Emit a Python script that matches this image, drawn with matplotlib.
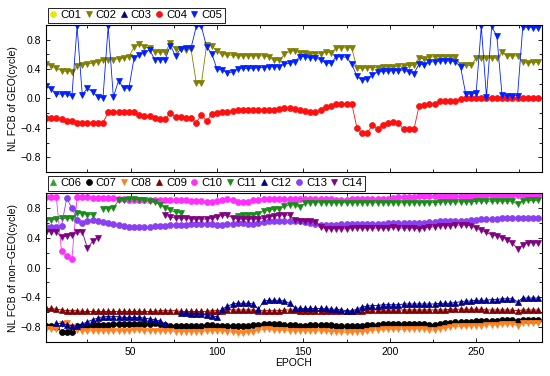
import numpy as np
import matplotlib
matplotlib.use("Agg")
import matplotlib.pyplot as plt
from matplotlib.ticker import MultipleLocator

plt.rcParams['font.family'] = ['Liberation Sans', 'DejaVu Sans']
plt.rcParams['font.size'] = 7.5

# epochs sampled every 3rd epoch (1 .. 286)
epoch = np.arange(1, 289, 3)
nan = np.nan

# ---- GEO satellites (top panel) ----
c01 = []
c03 = []
c02 = [0.47, 0.44, 0.41, 0.38, 0.37, 0.36, 0.44, 0.46, 0.47, 0.48, 0.50, 0.52,
       0.53, 0.53, 0.54, 0.55, 0.57, 0.70, 0.74, 0.70, 0.69, 0.63, 0.63, 0.63,
       0.75, 0.67, 0.67, 0.66, 0.67, 0.21, 0.21, 0.73, 0.72, 0.64, 0.60, 0.59,
       0.59, 0.58, 0.58, 0.58, 0.58, 0.58, 0.58, 0.57, 0.52, 0.52, 0.60, 0.64,
       0.65, 0.62, 0.62, 0.61, 0.61, 0.61, 0.63, 0.62, 0.69, 0.69, 0.69, 0.69,
       0.41, 0.41, 0.42, 0.42, 0.42, 0.43, 0.43, 0.43, 0.44, 0.44, 0.45, 0.45,
       0.55, 0.54, 0.56, 0.57, 0.57, 0.57, 0.57, 0.56, 0.46, 0.45, 0.45, 0.55,
       0.55, 0.55, 0.55, 0.55, 0.63, 0.58, 0.58, 0.58, 0.49, 0.48, 0.49, 0.49]
c04 = [-0.27, -0.27, -0.27, -0.28, -0.30, -0.31, -0.33, -0.33, -0.33, -0.33, -0.33, -0.33,
       -0.19, -0.18, -0.18, -0.18, -0.18, -0.19, -0.22, -0.24, -0.24, -0.26, -0.28, -0.28,
       -0.20, -0.25, -0.25, -0.26, -0.27, -0.33, -0.22, -0.31, -0.21, -0.20, -0.19, -0.18,
       -0.17, -0.16, -0.16, -0.16, -0.16, -0.15, -0.15, -0.15, -0.15, -0.14, -0.13, -0.13,
       -0.14, -0.15, -0.17, -0.18, -0.18, -0.16, -0.11, -0.10, -0.08, -0.07, -0.07, -0.07,
       -0.40, -0.47, -0.47, -0.36, -0.42, -0.36, -0.33, -0.32, -0.33, -0.42, -0.42, -0.42,
       -0.10, -0.09, -0.08, -0.07, -0.04, -0.04, -0.03, -0.03, -0.01, 0.00, 0.00, 0.01,
       0.01, 0.01, 0.01, 0.00, 0.00, 0.00, 0.00, 0.00, 0.00, 0.00, 0.00, 0.00]
c05 = [0.17, 0.13, 0.06, 0.06, 0.06, 0.03, 0.98, 0.05, 0.14, 0.09, 0.02, 0.01,
       0.98, 0.02, 0.24, 0.14, 0.14, 0.55, 0.59, 0.62, 0.66, 0.53, 0.53, 0.53,
       0.72, 0.58, 0.68, 0.69, 0.69, 0.98, 0.98, 0.70, 0.61, 0.40, 0.39, 0.35,
       0.36, 0.40, 0.41, 0.41, 0.41, 0.42, 0.42, 0.43, 0.43, 0.43, 0.47, 0.48,
       0.50, 0.57, 0.57, 0.55, 0.55, 0.53, 0.48, 0.48, 0.57, 0.57, 0.56, 0.47,
       0.30, 0.25, 0.26, 0.32, 0.36, 0.37, 0.37, 0.38, 0.38, 0.39, 0.36, 0.34,
       0.47, 0.45, 0.50, 0.50, 0.51, 0.51, 0.51, 0.50, 0.43, 0.06, 0.06, 0.07,
       0.98, 0.02, 0.98, 0.85, 0.05, 0.04, 0.04, 0.04, 0.97, 0.97, 0.96, 0.96]

# ---- non-GEO satellites (bottom panel) ----
c06 = []
c07 = [-0.79, -0.79, -0.80, -0.86, -0.87, -0.86, -0.79, -0.78, -0.78, -0.77, -0.77, -0.77,
       -0.77, -0.76, -0.76, -0.76, -0.76, -0.76, -0.76, -0.76, -0.76, -0.75, -0.76, -0.77,
       -0.78, -0.78, -0.78, -0.78, -0.78, -0.78, -0.78, -0.77, -0.77, -0.78, -0.78, -0.78,
       -0.78, -0.79, -0.79, -0.78, -0.77, -0.77, -0.76, -0.76, -0.76, -0.76, -0.77, -0.77,
       -0.77, -0.78, -0.78, -0.77, -0.77, -0.77, -0.77, -0.77, -0.78, -0.78, -0.79, -0.79,
       -0.78, -0.78, -0.77, -0.77, -0.77, -0.76, -0.76, -0.76, -0.76, -0.76, -0.76, -0.76,
       -0.76, -0.76, -0.77, -0.77, -0.76, -0.75, -0.74, -0.73, -0.73, -0.73, -0.73, -0.72,
       -0.72, -0.72, -0.72, -0.72, -0.71, -0.71, -0.71, -0.72, -0.70, -0.70, -0.70, -0.70]
c08 = [-0.83, -0.83, -0.82, -0.76, -0.74, -0.80, -0.84, -0.85, -0.85, -0.85, -0.85, -0.85,
       -0.85, -0.85, -0.85, -0.85, -0.85, -0.84, -0.84, -0.85, -0.85, -0.85, -0.85, -0.85,
       -0.85, -0.86, -0.86, -0.86, -0.86, -0.86, -0.86, -0.85, -0.85, -0.85, -0.85, -0.86,
       -0.87, -0.88, -0.88, -0.87, -0.86, -0.84, -0.83, -0.83, -0.84, -0.84, -0.84, -0.85,
       -0.85, -0.85, -0.85, -0.85, -0.85, -0.85, -0.85, -0.86, -0.86, -0.87, -0.87, -0.87,
       -0.86, -0.86, -0.85, -0.84, -0.84, -0.83, -0.83, -0.83, -0.83, -0.83, -0.83, -0.82,
       -0.82, -0.83, -0.84, -0.84, -0.82, -0.81, -0.80, -0.79, -0.79, -0.79, -0.78, -0.78,
       -0.78, -0.77, -0.77, -0.77, -0.76, -0.76, -0.76, -0.78, -0.75, -0.75, -0.75, -0.75]
c09 = [-0.55, -0.55, -0.56, -0.57, -0.58, -0.58, -0.58, -0.59, -0.59, -0.59, -0.59, -0.59,
       -0.59, -0.59, -0.59, -0.59, -0.59, -0.59, -0.59, -0.59, -0.59, -0.59, -0.58, -0.58,
       -0.58, -0.58, -0.59, -0.59, -0.59, -0.59, -0.59, -0.59, -0.58, -0.58, -0.58, -0.57,
       -0.57, -0.57, -0.57, -0.57, -0.57, -0.58, -0.58, -0.58, -0.58, -0.58, -0.57, -0.57,
       -0.57, -0.58, -0.58, -0.58, -0.58, -0.58, -0.58, -0.58, -0.58, -0.59, -0.59, -0.59,
       -0.58, -0.58, -0.57, -0.57, -0.57, -0.57, -0.57, -0.57, -0.57, -0.57, -0.57, -0.57,
       -0.57, -0.57, -0.57, -0.57, -0.57, -0.57, -0.56, -0.56, -0.56, -0.56, -0.56, -0.56,
       -0.56, -0.57, -0.57, -0.57, -0.57, -0.57, -0.57, -0.58, -0.57, -0.57, -0.57, -0.57]
c10 = [0.94, 0.94, 0.94, 0.22, 0.16, 0.11, 0.94, 0.94, 0.94, 0.93, 0.93, 0.93,
       0.93, 0.93, 0.92, 0.92, 0.91, 0.91, 0.91, 0.91, 0.91, 0.90, 0.90, 0.90,
       0.90, 0.90, 0.90, 0.90, 0.89, 0.89, 0.89, 0.88, 0.88, 0.89, 0.91, 0.92,
       0.90, 0.88, 0.88, 0.88, 0.90, 0.91, 0.92, 0.92, 0.92, 0.92, 0.92, 0.92,
       0.92, 0.92, 0.92, 0.92, 0.92, 0.92, 0.92, 0.92, 0.91, 0.91, 0.91, 0.92,
       0.92, 0.92, 0.92, 0.92, 0.92, 0.92, 0.92, 0.93, 0.94, 0.94, 0.95, 0.95,
       0.96, 0.96, 0.96, 0.96, 0.96, 0.96, 0.96, 0.96, 0.96, 0.96, 0.96, 0.96,
       0.97, 0.97, 0.97, 0.97, 0.97, 0.97, 0.97, 0.97, 0.97, 0.97, 0.97, 0.97]
c11 = [0.64, 0.64, 0.65, 0.66, 0.66, 0.66, 0.73, 0.72, 0.71, 0.71, nan, 0.79,
       0.79, 0.80, 0.90, 0.91, 0.92, 0.92, 0.91, 0.90, 0.89, 0.88, 0.84, 0.80,
       0.77, 0.74, 0.73, nan, nan, nan, nan, nan, nan, nan, nan, nan,
       nan, 0.69, 0.70, 0.70, 0.71, 0.72, 0.76, 0.77, 0.78, 0.79, 0.82, 0.84,
       0.84, 0.81, 0.86, 0.87, 0.87, 0.87, 0.87, 0.87, 0.87, 0.87, 0.87, 0.87,
       0.87, 0.87, 0.87, 0.87, 0.87, 0.87, 0.87, 0.87, 0.87, 0.87, 0.87, 0.87,
       0.87, 0.87, 0.87, 0.87, 0.88, 0.88, 0.88, 0.88, 0.88, 0.88, 0.88, 0.89,
       0.89, 0.89, 0.89, 0.89, 0.89, 0.89, 0.89, 0.85, 0.89, 0.90, 0.90, 0.90]
c12 = [nan, nan, -0.75, -0.75, -0.77, -0.78, -0.79, -0.76, -0.73, -0.70, -0.68, -0.66,
       -0.66, -0.66, -0.66, -0.67, -0.67, -0.67, -0.67, -0.68, -0.69, -0.70, -0.72, -0.76,
       nan, nan, -0.61, -0.61, -0.62, -0.62, -0.63, -0.64, -0.65, -0.66, -0.56, -0.52,
       -0.49, -0.48, -0.48, -0.48, -0.49, -0.56, -0.45, -0.44, -0.44, -0.44, -0.45, -0.48,
       -0.54, -0.55, -0.55, -0.55, -0.55, -0.55, -0.55, -0.56, -0.56, -0.57, -0.58, -0.58,
       -0.56, -0.53, -0.52, -0.51, -0.51, -0.50, -0.50, -0.50, -0.50, -0.49, -0.49, -0.49,
       -0.49, -0.49, -0.49, -0.49, -0.48, -0.48, -0.48, -0.47, -0.46, -0.45, -0.45, -0.44,
       -0.44, -0.44, -0.43, -0.43, -0.42, -0.42, -0.42, -0.46, -0.41, -0.41, -0.41, -0.41]
c13 = [0.55, 0.55, 0.55, 0.56, 0.93, 0.80, 0.64, 0.60, 0.63, 0.64, 0.63, 0.61,
       0.60, 0.58, 0.57, 0.56, 0.55, 0.54, 0.54, 0.55, 0.55, 0.56, 0.56, 0.56,
       0.57, 0.57, 0.57, 0.57, 0.58, 0.58, 0.58, 0.58, 0.58, 0.57, 0.57, 0.58,
       0.59, 0.60, 0.60, 0.59, 0.59, 0.60, 0.61, 0.62, 0.62, 0.62, 0.62, 0.63,
       0.62, 0.62, 0.61, 0.60, 0.58, 0.57, 0.57, 0.57, 0.57, 0.58, 0.58, 0.58,
       0.58, 0.59, 0.59, 0.59, 0.59, 0.59, 0.60, 0.60, 0.60, 0.60, 0.60, 0.60,
       0.60, 0.60, 0.61, 0.61, 0.62, 0.62, 0.62, 0.63, 0.63, 0.63, 0.64, 0.64,
       0.65, 0.65, 0.65, 0.65, 0.66, 0.66, 0.66, 0.66, 0.66, 0.66, 0.67, 0.67]
c14 = [0.48, 0.48, 0.48, 0.41, 0.42, 0.43, 0.47, 0.48, 0.26, 0.35, 0.40, nan,
       nan, nan, nan, nan, nan, nan, nan, nan, nan, nan, nan, 0.70,
       0.68, 0.66, 0.66, 0.66, 0.65, 0.65, 0.65, 0.65, 0.66, 0.68, 0.70, 0.70,
       0.67, 0.65, 0.65, 0.65, 0.65, 0.65, 0.66, 0.68, 0.69, 0.70, 0.71, 0.70,
       0.64, 0.63, 0.62, 0.62, 0.61, 0.55, 0.52, 0.52, 0.52, 0.52, 0.52, 0.53,
       0.53, 0.53, 0.53, 0.53, 0.53, 0.53, 0.53, 0.54, 0.53, 0.53, 0.53, 0.53,
       0.52, 0.53, 0.54, 0.55, 0.56, 0.56, 0.56, 0.57, 0.57, 0.57, 0.56, 0.53,
       0.50, 0.47, 0.44, 0.42, 0.40, 0.37, 0.33, 0.25, 0.30, 0.33, 0.33, 0.33]

geo_names = ['C01', 'C02', 'C03', 'C04', 'C05']
geo_values = [c01, c02, c03, c04, c05]
geo_styles = [('o', '#e8e800'), ('v', '#7f7f00'), ('^', '#00007f'),
              ('o', '#ff1010'), ('v', '#0020ff')]

igso_names = ['C06', 'C07', 'C08', 'C09', 'C10', 'C11', 'C12', 'C13', 'C14']
igso_values = [c06, c07, c08, c09, c10, c11, c12, c13, c14]
igso_styles = [('^', '#2ca02c'), ('o', '#000000'), ('v', '#ff8020'),
               ('^', '#800000'), ('o', '#ff30ff'), ('v', '#178c17'),
               ('^', '#00008b'), ('o', '#8a3ff0'), ('v', '#800080')]


def draw_panel(ax, names, values, styles):
    for name, vals, (mk, col) in zip(names, values, styles):
        if len(vals):
            assert len(vals) == len(epoch), name
            x = epoch
        else:
            x = []
        ax.plot(x, vals, marker=mk, color=col, markersize=4.3, markeredgewidth=0.5,
                linewidth=0.6, label=name)
    ax.set_xlim(1, 288)
    ax.set_ylim(-1, 1)
    ax.set_yticks([-0.8, -0.4, 0.0, 0.4, 0.8])
    ax.yaxis.set_minor_locator(MultipleLocator(0.2))
    ax.xaxis.set_major_locator(MultipleLocator(50))
    ax.xaxis.set_minor_locator(MultipleLocator(25))
    ax.tick_params(which='both', direction='in', top=True, right=True, width=0.6)
    ax.tick_params(which='major', length=3)
    ax.tick_params(which='minor', length=2)
    for s in ax.spines.values():
        s.set_linewidth(0.8)
    leg = ax.legend(loc='lower left', bbox_to_anchor=(0.0, 1.0), ncol=len(names),
                    borderaxespad=0.15, handlelength=0.5, handletextpad=0.35,
                    columnspacing=0.4, borderpad=0.25, fancybox=False,
                    framealpha=1, edgecolor='black', fontsize=8.2)
    leg.get_frame().set_linewidth(0.6)
    for h in leg.legend_handles:
        h.set_linestyle('none')


fig = plt.figure(figsize=(5.5, 3.76), dpi=100)
ax1 = fig.add_axes([0.0836, 0.5426, 0.9014, 0.3909])
ax2 = fig.add_axes([0.0836, 0.0904, 0.9014, 0.3963])

draw_panel(ax1, geo_names, geo_values, geo_styles)
draw_panel(ax2, igso_names, igso_values, igso_styles)

ax1.tick_params(labelbottom=False)
ax1.set_ylabel('NL FCB of GEO(cycle)', labelpad=2)
ax2.set_ylabel('NL FCB of non\u2212GEO(cycle)', labelpad=2)
ax2.set_xlabel('EPOCH', labelpad=1)

fig.savefig('out.png', dpi=100)
